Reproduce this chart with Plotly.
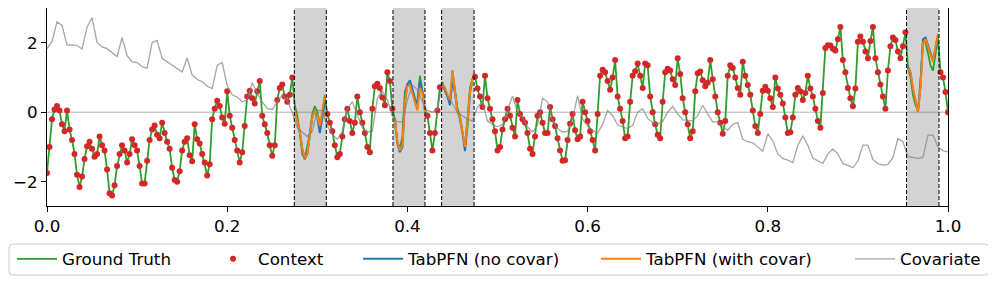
import numpy as np
import plotly.graph_objects as go

# ---------------- data ----------------
ground_truth = [
    # 0.000 - 0.142
    -1.75, -1.0, -0.2, 0.08, 0.18, 0.05, -0.35, -0.55, 0.05, -0.5,
    -0.8, -1.2, -1.8, -2.15, -1.85, -1.35, -0.98, -0.85, -1.05, -1.28,
    -1.2, -0.7, -0.95, -1.1, -1.65, -2.33, -2.4, -2.1, -1.55, -1.2,
    -0.95, -1.1, -1.45, -1.2, -0.78, -0.95, -1.1, -1.55, -2.05, -2.05,
    -1.4, -0.8, -0.5, -0.38, -0.65, -0.75, -0.3, -0.6, -0.85, -1.05,
    -1.6, -1.95,
    # 0.144 - 0.286
    -2.0, -1.7, -1.1, -0.85, -0.75, -1.24, -1.41, -0.35, -0.78, -0.9,
    -1.2, -1.45, -1.82, -1.5, -0.2, 0.1, 0.33, 0.18, -0.15, -0.33,
    0.6, -0.1, -0.45, -0.8, -1.1, -1.45, -1.15, -0.4, 0.45, 0.62,
    0.4, 0.25, 0.6, 0.9, -0.1, -0.35, -0.6, -0.95, -1.25, -0.95,
    0.35, 0.7, 0.8, 0.45, 0.3, 0.5, 1.0, 0.2, -0.1, -0.6,
    -1.2, -1.35,
    # 0.289 - 0.431
    -1.0, -0.6, -0.05, 0.18, 0.0, -0.3, -0.1, 0.45, -0.05, -0.3,
    -0.55, -0.95, -1.3, -1.2, -0.7, -0.2, 0.1, -0.25, -0.6, -0.3,
    0.45, 0.0, -0.3, -0.6, -1.0, -1.15, 0.1, 0.75, 0.82, 0.7,
    0.42, 0.2, 1.15, 0.9, 0.1, -0.2, -0.85, -1.05, -0.7, 0.6,
    0.8, 0.78, 0.65, 0.35, 0.3, 1.05, 0.6, 0.1, -0.1, -0.6,
    -1.1, -0.6,
    # 0.433 - 0.575
    0.05, 0.72, 0.87, 0.6, 0.45, 0.3, 1.2, 0.7, 0.1, -0.1,
    -0.6, -1.0, -0.2, 0.7, 0.97, 1.02, 0.68, 0.45, 0.15, 1.05,
    0.4, 0.1, -0.2, -0.55, -1.1, -1.0, -0.5, -0.2, 0.1, -0.1,
    -0.45, -0.7, 0.35, -0.05, -0.2, -0.3, -0.6, -1.05, -1.2, -0.7,
    -0.1, 0.0, -0.3, -0.6, -0.6, 0.15, -0.2, -0.4, -0.75, -1.1,
    -1.4, -1.38,
    # 0.578 - 0.719
    -0.8, -0.33, -0.05, -0.52, -0.78, -0.7, 0.3, 0.0, -0.25, -0.55,
    -0.8, -1.1, -0.05, 1.05, 1.22, 1.15, 0.9, 0.65, 1.0, 1.5,
    0.45, 0.1, -0.25, -0.75, -0.7, 0.3, 1.05, 1.18, 1.4, 1.05,
    0.7, 1.4, 1.35, 0.45, 0.0, -0.35, -0.65, -0.75, 0.3, 1.15,
    1.25, 1.2, 0.95, 0.78, 1.55, 1.1, 0.4, 0.0, -0.35, -0.75,
    -0.55, 0.6,
    # 0.722 - 0.864
    1.12, 1.17, 0.92, 0.75, 0.85, 1.5, 0.95, 0.45, 0.0, -0.3,
    -0.62, -0.25, 1.05, 1.35, 1.27, 1.0, 0.7, 0.5, 1.45, 1.05,
    0.78, 0.5, 0.05, -0.4, -0.6, -0.05, 0.62, 0.73, 0.62, 0.4,
    0.15, 1.0, 0.68, 0.5, 0.25, -0.15, -0.6, -0.58, -0.15, 0.5,
    0.7, 0.6, 0.35, 0.55, 1.05, 0.68, 0.45, 0.1, -0.25, -0.45,
    0.55, 1.85,
    # 0.867 - 1.000
    1.93, 1.92, 1.83, 1.78, 2.1, 2.45, 1.5, 1.15, 0.7, 0.4,
    0.17, 0.68, 2.03, 2.18, 2.03, 1.75, 1.55, 2.05, 2.45, 1.55,
    1.15, 0.8, 0.45, 0.1, 1.2, 1.9, 2.15, 2.08, 1.75, 1.55,
    1.9, 2.3, 1.3, 1.0, 0.5, 0.2, 0.05, 0.9, 2.05, 2.0,
    1.7, 1.35, 1.2, 1.7, 2.15, 1.15, 1.0, 0.58, 0.0,
]

covariate = [
    1.83, 2.03, 2.6, 2.5, 1.93, 1.94, 1.92, 1.82, 2.45, 2.72,
    2.0, 1.88, 1.83, 1.72, 1.6, 2.15, 1.63, 1.45, 1.43, 1.31,
    1.27, 2.0, 2.07, 1.55, 1.45, 1.37,
    1.27, 1.16, 1.56, 1.07, 0.94, 0.88, 0.75, 0.68, 1.35, 1.43,
    0.77, 0.5, 0.44, 0.3, 0.35, 0.85, 0.55, 0.3, 0.11,
    0.08, 0.3, 0.5, 0.35, 0.0, -0.45, -0.58,
    -0.7, -0.55, 0.05, 0.05, -0.4, -0.63, -0.78, -0.55, 0.1, 0.3,
    -0.1, -0.45, -0.57, -0.55, 0.4, 0.62, 0.35, -0.12, -0.28, -0.28,
    0.35, 0.78, 0.65, 0.3, 0.05, 0.0,
    0.1, 0.8, 0.45, 0.25, 0.0, -0.1, -0.2, -0.25, 0.15, 0.3,
    -0.25, -0.35, -0.42, -0.35, 0.05, 0.47, 0.0, -0.15, -0.42, -0.57,
    -0.38, 0.4, 0.3, -0.25, -0.47, -0.57,
    -0.55, -0.2, 0.48, -0.2, -0.4, -0.52, -0.6, -0.35, 0.05, -0.1,
    -0.37, -0.42, -0.47, -0.38, 0.0, 0.1, -0.18, -0.3, -0.33, -0.27,
    0.0, 0.17, -0.05, -0.22, -0.23, -0.25,
    -0.1, 0.2, -0.05, -0.28, -0.28, -0.42, -0.52, -0.35, -0.3, -0.78,
    -0.85, -0.88, -1.0, -1.12, -0.62, -0.82, -1.2, -1.33, -1.38, -1.45,
    -0.95, -0.68, -0.95, -1.32, -1.4, -1.47,
    -1.2, -1.06, -1.2, -1.48, -1.53, -1.6, -1.4, -0.95, -0.95, -1.36,
    -1.48, -1.52, -1.51, -1.3, -0.76, -0.85, -1.28, -1.31, -1.33, -1.3,
    -0.66, -0.66, -1.0, -1.11, -1.14,
]

# forecast windows (x units)
window_start = [0.2745, 0.384, 0.438, 0.954]
window_end = [0.310, 0.4195, 0.474, 0.990]

pred_no_covar = [
    [0.05, -0.25, -0.55, -1.05, -1.35, -1.2, -0.6, -0.15, 0.05, -0.15, -0.6, -0.2, 0.3],
    [-0.25, -0.9, -1.15, -1.0, 0.3, 0.8, 0.92, 0.65, 0.4, 0.2, 0.9, 0.6, 0.05],
    [0.8, 0.7, 0.45, 0.2, 0.9, 0.55, 0.05, -0.2, -0.6, -1.12, -0.4, 0.55, 0.95],
    [1.3, 1.15, 0.65, 0.3, 0.02, 0.75, 2.1, 2.15, 1.95, 1.7, 1.5, 1.85, 2.2],
]
pred_with_covar = [
    [0.05, -0.25, -0.55, -1.05, -1.32, -1.2, -0.6, -0.15, 0.05, -0.1, -0.4, 0.1, 0.5],
    [-0.25, -0.85, -1.1, -0.95, 0.3, 0.75, 0.78, 0.55, 0.35, 0.05, 0.7, 0.55, 0.0],
    [0.8, 0.7, 0.5, 0.35, 1.2, 0.5, 0.0, -0.15, -0.55, -1.0, -0.3, 0.6, 0.95],
    [1.25, 1.15, 0.7, 0.3, 0.0, 0.7, 2.0, 2.1, 1.9, 1.65, 1.45, 1.9, 2.25],
]

x_ticks = [0.0, 0.2, 0.4, 0.6, 0.8, 1.0]
y_ticks = [-2, 0, 2]

# ---------------- derived ----------------
t = np.linspace(0, 1, len(ground_truth))
t_cov = np.linspace(0, 1, len(covariate))
gt = np.array(ground_truth)

in_window = np.zeros(len(t), dtype=bool)
win_idx = []
for s, e in zip(window_start, window_end):
    m = (t >= s) & (t <= e)
    in_window |= m
    win_idx.append(np.where(m)[0])


def joined(preds):
    xs, ys = [], []
    for idx, p in zip(win_idx, preds):
        xs += list(t[idx]) + [None]
        ys += list(p[:len(idx)]) + [None]
    return xs, ys


FONT = "DejaVu Sans"
FS = 16.7
PAGE_OFF = 8                     # default body margin of the html page
W, H = 996 - PAGE_OFF, 283 - PAGE_OFF
# plot area in page pixels: x 47..948, y 8..206
ML = 47 - PAGE_OFF
MT = 8 - PAGE_OFF
MR = W - (948 - PAGE_OFF)
MB = H - (206 - PAGE_OFF)
PW, PH = W - ML - MR, H - MT - MB


def px_x(px):  # page px -> paper x
    return (px - PAGE_OFF - ML) / PW


def px_y(py):  # page px -> paper y
    return (H - MB - (py - PAGE_OFF)) / PH


fig = go.Figure()

fig.add_trace(go.Scatter(x=t, y=gt, mode="lines", name="Ground Truth",
                         line=dict(color="#2ca02c", width=1.8), legend="legend"))
fig.add_trace(go.Scatter(x=t[~in_window], y=gt[~in_window], mode="markers", name="Context",
                         marker=dict(color="#d62728", size=6, line=dict(width=0)),
                         legend="legend2"))
xb, yb = joined(pred_no_covar)
fig.add_trace(go.Scatter(x=xb, y=yb, mode="lines", name="TabPFN (no covar)",
                         line=dict(color="#1f77b4", width=2), legend="legend3"))
xo, yo = joined(pred_with_covar)
fig.add_trace(go.Scatter(x=xo, y=yo, mode="lines", name="TabPFN (with covar)",
                         line=dict(color="#ff7f0e", width=2), legend="legend4"))
fig.add_trace(go.Scatter(x=t_cov, y=covariate, mode="lines", name="Covariate",
                         line=dict(color="rgba(128,128,128,0.7)", width=1.3),
                         legend="legend5"))

shapes = []
for s, e in zip(window_start, window_end):
    shapes.append(dict(type="rect", xref="x", yref="paper", x0=s, x1=e, y0=0, y1=1,
                       fillcolor="#d3d3d3", line=dict(width=0), layer="below"))
for s, e in zip(window_start, window_end):
    for xv in (s, e):
        shapes.append(dict(type="line", xref="x", yref="paper", x0=xv, x1=xv, y0=0, y1=1,
                           line=dict(color="black", width=1, dash="4px,2px"), layer="above"))
shapes.append(dict(type="line", xref="paper", yref="y", x0=0, x1=1, y0=0, y1=0,
                   line=dict(color="rgba(128,128,128,0.6)", width=1), layer="below"))

# legend frame (rounded)
x0, x1 = px_x(9), px_x(989)
yt, yb_ = px_y(244), px_y(275)
rx, ry = 4 / PW, 4 / PH
path = (f"M{x0+rx},{yt} L{x1-rx},{yt} Q{x1},{yt} {x1},{yt-ry} L{x1},{yb_+ry} "
        f"Q{x1},{yb_} {x1-rx},{yb_} L{x0+rx},{yb_} Q{x0},{yb_} {x0},{yb_+ry} "
        f"L{x0},{yt-ry} Q{x0},{yt} {x0+rx},{yt} Z")
shapes.append(dict(type="path", xref="paper", yref="paper", path=path,
                   line=dict(color="#cccccc", width=1), fillcolor="rgba(255,255,255,0.8)",
                   layer="above"))

leg_common = dict(orientation="h", yanchor="middle", xanchor="left", y=px_y(259),
                  bgcolor="rgba(0,0,0,0)", borderwidth=0, itemwidth=40,
                  font=dict(family=FONT, size=FS, color="black"))
text_starts = [62, 258, 408, 646, 900]
legends = {}
for i, ts in enumerate(text_starts):
    key = "legend" if i == 0 else f"legend{i+1}"
    legends[key] = dict(leg_common, x=px_x(ts - 50))

fig.update_layout(
    width=W, height=H,
    margin=dict(l=ML, r=MR, t=MT, b=MB, autoexpand=False),
    paper_bgcolor="white", plot_bgcolor="white",
    font=dict(family=FONT, size=FS, color="black"),
    shapes=shapes,
    showlegend=True,
    **legends,
)
fig.update_xaxes(range=[0, 1], tickvals=x_ticks, ticktext=[f"{v:.1f}" for v in x_ticks],
                 showgrid=False, zeroline=False, showline=True, mirror=True,
                 linecolor="black", linewidth=1, ticks="outside", ticklen=5, tickwidth=1,
                 tickcolor="black", tickfont=dict(family=FONT, size=FS))
fig.update_yaxes(range=[-2.7, 3.0], tickvals=y_ticks, ticktext=["\u22122", "0", "2"],
                 showgrid=False, zeroline=False, showline=True, mirror=True,
                 linecolor="black", linewidth=1, ticks="outside", ticklen=5, tickwidth=1,
                 tickcolor="black", tickfont=dict(family=FONT, size=FS))

fig.write_html("out.html")
